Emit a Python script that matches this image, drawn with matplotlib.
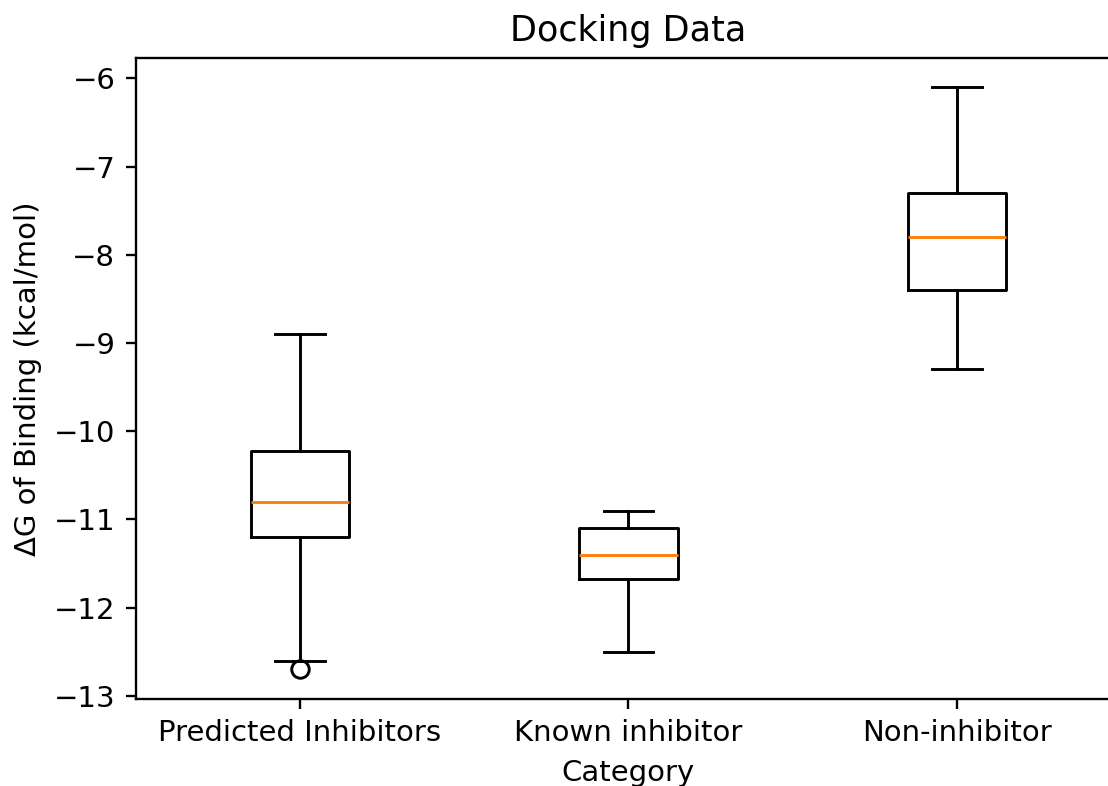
import matplotlib
matplotlib.use('Agg')
import matplotlib.pyplot as plt

# box summary per category
categories = ['Predicted Inhibitors', 'Known inhibitor', 'Non-inhibitor']
whis_lo = [-12.6, -12.5, -9.3]
q1      = [-11.2, -11.67, -8.4]
median  = [-10.8, -11.4, -7.8]
q3      = [-10.22, -11.1, -7.3]
whis_hi = [-8.9, -10.9, -6.1]
fliers  = [[-12.7], [], []]

stats = []
for i, name in enumerate(categories):
    stats.append({'label': name, 'whislo': whis_lo[i], 'q1': q1[i],
                  'med': median[i], 'q3': q3[i], 'whishi': whis_hi[i],
                  'fliers': fliers[i]})

DPI = 210
fig = plt.figure(figsize=(1108 / DPI, 786 / DPI), dpi=DPI)
ax = fig.add_axes([0.1225, 0.1113, 0.8894, 0.8149])
ax.bxp(stats)

ax.set_title('Docking Data')
ax.set_xlabel('Category')
ax.set_ylabel('ΔG of Binding (kcal/mol)')

fig.savefig('out.png', dpi=DPI)
